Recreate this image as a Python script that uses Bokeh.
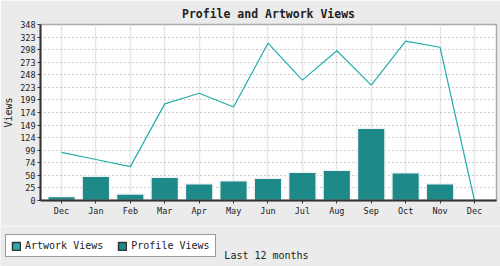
from bokeh.plotting import figure
from bokeh.models import (ColumnDataSource, Range1d, FixedTicker, Label, Legend, LegendItem)
from bokeh.layouts import column
from bokeh.embed import file_html
from bokeh.resources import INLINE

months = ["Dec", "Jan", "Feb", "Mar", "Apr", "May", "Jun", "Jul", "Aug", "Sep", "Oct", "Nov", "Dec"]
artwork_views = [95, 81, 67, 191, 212, 185, 311, 238, 296, 228, 315, 303, 0]
profile_views = [8, 48, 13, 46, 33, 39, 44, 56, 60, 143, 55, 33, 0]
y_tick_labels = ["0", "25", "50", "74", "99", "124", "149", "174", "199", "223", "248", "273", "298", "323", "348"]
y_max = 348

FONT = "DejaVu Sans Mono"
BG = "#ebebeb"
LINE_C = "#22aeaa"
BAR_C = "#1d8989"
TXT = "#222222"
NAN = float("nan")

idx = list(range(len(months)))
src = ColumnDataSource(dict(x=idx, art=artwork_views, prof=profile_views))

p = figure(width=500, height=226, output_backend="svg", toolbar_location=None,
           x_range=Range1d(-0.61, 12.64), y_range=Range1d(0, y_max),
           min_border_left=39, min_border_right=4, min_border_top=24, min_border_bottom=26)
p.background_fill_color = "white"
p.border_fill_color = BG
p.outline_line_color = "#aaaaaa"
p.outline_line_width = 1.5
p.frame_align = False

p.title.text = "Profile and Artwork Views"
p.title.align = "center"
p.title.text_font = FONT
p.title.text_font_size = "11.5px"
p.title.text_font_style = "bold"
p.title.text_color = TXT
p.title.standoff = 7
p.title.offset = -19

p.vbar(x="x", top="prof", width=0.8, source=src, fill_color=BAR_C,
       line_color="#f2f2f2", line_width=1.5)
p.line(x="x", y="art", source=src, line_color=LINE_C, line_width=1.2)

# axes
p.xaxis.ticker = FixedTicker(ticks=idx)
p.xaxis.major_label_overrides = {i: m for i, m in enumerate(months)}
yt = [y_max * i / (len(y_tick_labels) - 1) for i in range(len(y_tick_labels))]
p.yaxis.ticker = FixedTicker(ticks=yt)
p.yaxis.major_label_overrides = {t: l for t, l in zip(yt, y_tick_labels)}
for ax in (p.xaxis[0], p.yaxis[0]):
    ax.axis_line_color = "#333333"
    ax.axis_line_width = 2
    ax.major_tick_line_color = "#333333"
    ax.major_tick_out = 3
    ax.major_tick_in = 0
    ax.minor_tick_line_color = None
    ax.major_label_text_font = FONT
    ax.major_label_text_font_size = "8.5px"
    ax.major_label_text_color = TXT
    ax.major_label_standoff = 2
p.yaxis.axis_label = "Views"
p.yaxis.axis_label_text_font = FONT
p.yaxis.axis_label_text_font_size = "10px"
p.yaxis.axis_label_text_font_style = "normal"
p.yaxis.axis_label_text_color = TXT
p.yaxis.axis_label_standoff = 3

p.ygrid.grid_line_color = "#999999"
p.ygrid.grid_line_dash = "1 3"
p.ygrid.grid_line_width = 1
p.xgrid.grid_line_color = "#e6e6e6"
p.xgrid.grid_line_width = 1.5

# bottom strip with legend and x label
q = figure(width=500, height=40, output_backend="svg", toolbar_location=None,
           x_range=Range1d(0, 500), y_range=Range1d(0, 40),
           min_border=0, min_border_left=0, min_border_right=0,
           x_axis_type=None, y_axis_type=None)
q.frame_align = False
q.background_fill_color = BG
q.border_fill_color = BG
q.outline_line_color = None
q.grid.grid_line_color = None

sw_art = q.rect(x=[NAN], y=[NAN], width=1, height=1, fill_color="#2aacaa", line_color="#333333", line_width=1.5)
sw_prof = q.rect(x=[NAN], y=[NAN], width=1, height=1, fill_color=BAR_C, line_color="#333333", line_width=1.5)

legend = Legend(items=[LegendItem(label="Artwork Views", renderers=[sw_art]),
                       LegendItem(label="Profile Views", renderers=[sw_prof])],
                location=(5, 9), orientation="horizontal")
legend.padding = 5
legend.margin = 0
legend.spacing = 14
legend.glyph_width = 10
legend.glyph_height = 10
legend.label_height = 10
legend.label_standoff = 4
legend.label_text_font = FONT
legend.label_text_font_size = "10px"
legend.label_text_color = TXT
legend.border_line_color = "#333333"
legend.border_line_width = 1.5
legend.background_fill_color = "white"
legend.background_fill_alpha = 1
q.add_layout(legend, "center")

xlab = Label(x=266, y=11, text="Last 12 months",
             text_font=FONT, text_font_size="10px", text_align="center",
             text_baseline="middle", text_color=TXT)
q.add_layout(xlab)

layout = column(p, q, spacing=0)
open("out.html", "w").write(file_html(layout, INLINE))
